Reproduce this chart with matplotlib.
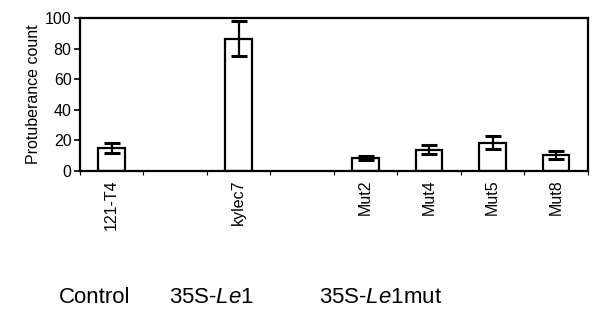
import numpy as np
import matplotlib
matplotlib.use('Agg')
from matplotlib import pyplot as plt

plt.rcParams['font.family'] = ['Liberation Sans', 'DejaVu Sans']
plt.rcParams['mathtext.fontset'] = 'custom'
plt.rcParams['mathtext.rm'] = 'Liberation Sans'
plt.rcParams['mathtext.it'] = 'Liberation Sans:italic'

# данные
lines = ['121-T4', '', 'kylec7', '', 'Mut2', 'Mut4', 'Mut5', 'Mut8']
counts = [15, 0, 86.5, 0, 8.5, 14, 18.5, 10.5]
errs = [3, 0, 11.5, 0, 1.2, 3, 4.2, 2.6]
groups = ['Control', '35S-$\\it{Le1}$', '35S-$\\it{Le1}$mut']

fig = plt.figure(figsize=(5.92, 3.12), dpi=100)
ax = fig.add_axes([0.135, 0.452, 0.858, 0.49])

x = np.arange(len(lines))
shown = [i for i in x if lines[i]]
ax.bar([x[i] for i in shown], [counts[i] for i in shown], width=0.42,
       color='white', edgecolor='black', linewidth=1.6, zorder=2)
ax.errorbar([x[i] for i in shown], [counts[i] for i in shown],
            yerr=[errs[i] for i in shown], fmt='none', ecolor='black',
            elinewidth=1.6, capsize=6, capthick=2.2, zorder=3)

ax.set_xlim(-0.5, len(lines) - 0.5)
ax.set_ylim(0, 100)
ax.set_yticks([0, 20, 40, 60, 80, 100])
ax.set_xticks(shown)
ax.set_xticklabels([lines[i] for i in shown], rotation=90, fontsize=11.5)
ax.set_xticks(np.arange(len(lines) + 1) - 0.5, minor=True)
ax.tick_params(axis='x', which='major', length=0, pad=6)
ax.tick_params(axis='x', which='minor', length=3, width=0.8, direction='out')
ax.tick_params(axis='y', labelsize=11.5, length=4, width=1.2, pad=2)
ax.set_ylabel('Protuberance count', fontsize=11.5, labelpad=3)
for s in ax.spines.values():
    s.set_linewidth(1.6)

for xp, g in zip([95, 212, 381], groups):
    fig.text(xp / 592, 0.045, g, ha='center', va='center', fontsize=16)

fig.savefig('out.png', dpi=100)
